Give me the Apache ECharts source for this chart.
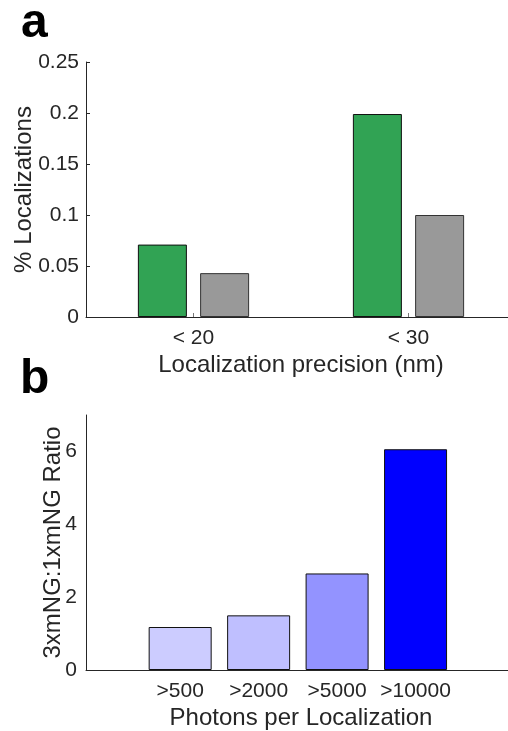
<!DOCTYPE html>
<html>
<head>
<meta charset="utf-8">
<script src="https://cdn.jsdelivr.net/npm/echarts@6/dist/echarts.min.js"></script>
<style>
	html, body { margin: 0; padding: 0; background: #fff; }
	#chart { width: 508px; height: 731px; }
</style>
</head>
<body>
<div id="chart"></div>
<script>
// panel a
const precisionCats = ['< 20', '< 30']
const greenVals = [0.071, 0.199]
const grayVals = [0.043, 0.100]
const aTicks = [0, 0.05, 0.1, 0.15, 0.2, 0.25]

// panel b
const photonCats = ['>500', '>2000', '>5000', '>10000']
const ratioVals = [1.18, 1.50, 2.65, 6.06]

const axisCol = '#262626'
const fam = 'Liberation Sans, Helvetica, Arial, sans-serif'
const blueList = ['#ccccff', '#bfbfff', '#9393ff', '#0000ff']

const chartDom = echarts.init(document.getElementById('chart'))

const option = {
	animation: false,
	backgroundColor: '#fff',
	textStyle: { fontFamily: fam },
	title: [
		{ text: 'a', left: 16, top: -5, textStyle: { fontSize: 48, fontWeight: 'bold', color: '#000', fontFamily: fam } },
		{ text: 'b', left: 15, top: 351, textStyle: { fontSize: 48, fontWeight: 'bold', color: '#000', fontFamily: fam } }
	],
	grid: [
		{ left: 86, top: 62, width: 430, height: 255, outerBoundsMode: 'none', containLabel: false },
		{ left: 86, top: 415, width: 430, height: 255, outerBoundsMode: 'none', containLabel: false }
	],
	xAxis: [
		{
			gridIndex: 0,
			type: 'category',
			data: precisionCats,
			name: 'Localization precision (nm)',
			nameLocation: 'middle',
			nameGap: 36,
			nameTextStyle: { fontSize: 24, color: axisCol },
			axisLine: { lineStyle: { color: axisCol, width: 1 } },
			axisTick: { show: true, inside: true, length: 4, alignWithLabel: true, lineStyle: { color: '#777' } },
			axisLabel: { fontSize: 21, color: axisCol, margin: 11 }
		},
		{
			gridIndex: 1,
			type: 'value',
			min: -0.2,
			max: 5.28,
			name: 'Photons per Localization',
			nameLocation: 'middle',
			nameGap: 36,
			nameTextStyle: { fontSize: 24, color: axisCol },
			splitLine: { show: false },
			axisLine: { onZero: false, lineStyle: { color: axisCol, width: 1 } },
			axisTick: { show: false },
			axisLabel: {
				fontSize: 21, color: axisCol, margin: 11,
				formatter: (v) => (Number.isInteger(v) && photonCats[v - 1]) ? photonCats[v - 1] : ''
			}
		}
	],
	yAxis: [
		{
			gridIndex: 0,
			type: 'value',
			min: 0,
			max: 0.25,
			interval: 0.05,
			name: '% Localizations',
			nameLocation: 'middle',
			nameGap: 50,
			nameMoveOverlap: false,
			nameTextStyle: { fontSize: 24, color: axisCol },
			splitLine: { show: false },
			axisLine: { show: true, onZero: false, lineStyle: { color: axisCol, width: 1 } },
			axisTick: { show: true, inside: true, length: 4, lineStyle: { color: axisCol } },
			axisLabel: {
				fontSize: 21, color: axisCol, margin: 7,
				formatter: (v) => {
					const t = aTicks.find(x => Math.abs(x - v) < 1e-9)
					return t === undefined ? '' : String(t)
				}
			}
		},
		{
			gridIndex: 1,
			type: 'value',
			min: 0,
			max: 7,
			interval: 2,
			name: '3xmNG:1xmNG Ratio',
			nameLocation: 'middle',
			nameGap: 21,
			nameMoveOverlap: false,
			nameTextStyle: { fontSize: 24, color: axisCol },
			splitLine: { show: false },
			axisLine: { show: true, onZero: false, lineStyle: { color: axisCol, width: 1 } },
			axisTick: { show: false },
			axisLabel: { fontSize: 21, color: axisCol, margin: 9, showMaxLabel: false }
		}
	],
	series: [
		{
			type: 'bar',
			xAxisIndex: 0,
			yAxisIndex: 0,
			data: greenVals,
			barWidth: 49,
			barGap: '27%',
			itemStyle: { color: '#31a354', borderColor: '#111', borderWidth: 1 }
		},
		{
			type: 'bar',
			xAxisIndex: 0,
			yAxisIndex: 0,
			data: grayVals,
			barWidth: 49,
			barGap: '27%',
			itemStyle: { color: '#999999', borderColor: '#333', borderWidth: 1 }
		},
		{
			type: 'bar',
			xAxisIndex: 1,
			yAxisIndex: 1,
			data: ratioVals.map((v, i) => [i + 1, v]),
			barWidth: 63,
			itemStyle: {
				color(params) {
					return blueList[params.dataIndex]
				},
				borderColor: '#111',
				borderWidth: 1
			}
		}
	]
}

chartDom.setOption(option, true)
</script>
</body>
</html>
